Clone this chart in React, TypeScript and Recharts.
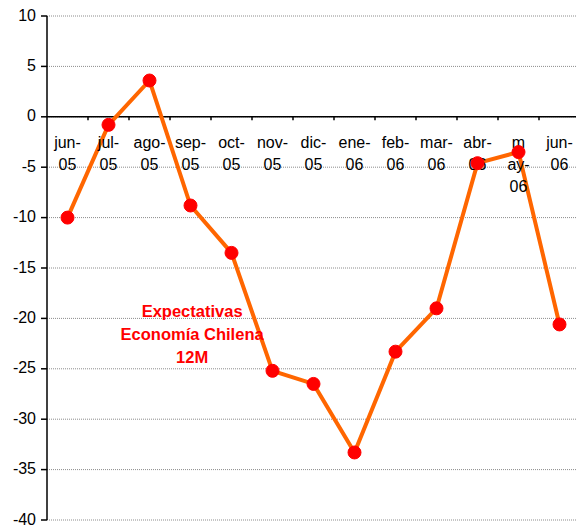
import { LineChart, Line, XAxis, YAxis, CartesianGrid, ReferenceLine, ReferenceDot } from 'recharts';

const months = ['jun-05', 'jul-05', 'ago-05', 'sep-05', 'oct-05', 'nov-05', 'dic-05', 'ene-06', 'feb-06', 'mar-06', 'abr-06', 'may-06', 'jun-06'];
// label lines as drawn under the zero axis
const monthLabels = [
  ['jun-', '05'], ['jul-', '05'], ['ago-', '05'], ['sep-', '05'], ['oct-', '05'], ['nov-', '05'], ['dic-', '05'],
  ['ene-', '06'], ['feb-', '06'], ['mar-', '06'], ['abr-', '06'], ['m', 'ay-', '06'], ['jun-', '06'],
];
const expectativas = [-10, -0.8, 3.6, -8.8, -13.5, -25.2, -26.5, -33.3, -23.3, -19.0, -4.6, -3.5, -20.6];
const yTicks = [10, 5, 0, -5, -10, -15, -20, -25, -30, -35, -40];
const annotation = ['Expectativas', 'Economía Chilena', '12M'];

const data = months.map((m, i) => ({ idx: i, month: m, value: expectativas[i] }));
const boundaries = months.slice(1).map((_, i) => i + 0.5);

const font = '"Liberation Sans", Arial, sans-serif';

export default function App() {
  return (
    <div style={{ position: 'absolute', left: 0, top: 0, width: 576, height: 527, overflow: 'hidden', background: '#fff' }}>
      <LineChart width={590} height={527} data={data} margin={{ top: 16, right: 10, bottom: 7, left: 0 }}>
        <CartesianGrid vertical={false} stroke="#8c8c8c" strokeDasharray="1 1" />
        <XAxis dataKey="idx" type="number" domain={[-0.5, 12.5]} hide />
        <YAxis
          domain={[-40, 10]}
          ticks={yTicks}
          interval={0}
          width={47}
          axisLine={{ stroke: '#000', strokeWidth: 1.5 }}
          tickLine={{ stroke: '#000', strokeWidth: 1.5 }}
          tickSize={6}
          tickMargin={5}
          tick={{ fontSize: 16, fill: '#000', fontFamily: font, dy: -1 }}
        />
        <ReferenceLine y={0} stroke="#000" strokeWidth={1.5} />
        {boundaries.map((b) => (
          <ReferenceLine key={b} segment={[{ x: b, y: 0 }, { x: b, y: -0.35 }]} stroke="#000" strokeWidth={1.5} />
        ))}
        {monthLabels.map((lines, i) => (
          <ReferenceDot
            key={months[i]}
            x={i}
            y={0}
            r={0}
            shape={(p: any) => (
              <text x={p.cx} y={p.cy} textAnchor="middle" fontSize={16} fontFamily={font} fill="#000">
                {lines.map((t, j) => (
                  <tspan key={j} x={p.cx} y={p.cy + 31 + j * 22}>{t}</tspan>
                ))}
              </text>
            )}
          />
        ))}
        <ReferenceDot
          x={3.04}
          y={-21.5}
          r={0}
          shape={(p: any) => (
            <text x={p.cx} y={p.cy} textAnchor="middle" fontSize={16.5} fontWeight="bold" fontFamily={font} fill="#ff0000">
              {annotation.map((t, j) => (
                <tspan key={j} x={p.cx} y={p.cy - 17 + j * 23}>{t}</tspan>
              ))}
            </text>
          )}
        />
        <Line
          dataKey="value"
          stroke="#ff6600"
          strokeWidth={4}
          dot={{ r: 6.5, fill: '#ff0000', stroke: '#ff0000', strokeWidth: 1 }}
          isAnimationActive={false}
        />
      </LineChart>
    </div>
  );
}
